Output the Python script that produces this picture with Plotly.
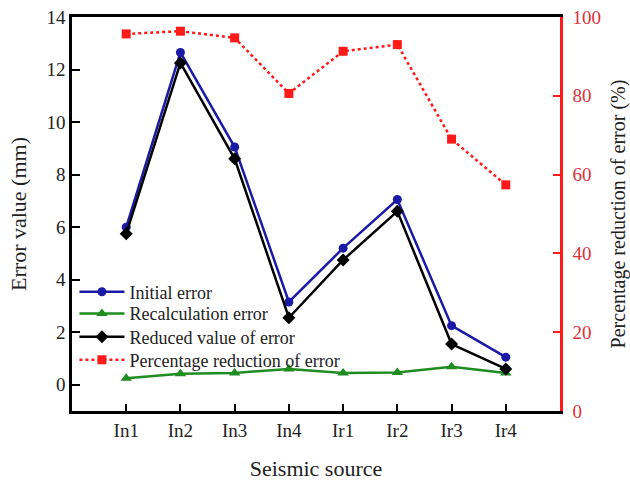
import plotly.graph_objects as go

categories = ["In1", "In2", "In3", "In4", "Ir1", "Ir2", "Ir3", "Ir4"]
initial_error = [6.0, 12.65, 9.05, 3.15, 5.2, 7.05, 2.25, 1.05]
recalc_error = [0.25, 0.42, 0.45, 0.6, 0.45, 0.47, 0.68, 0.45]
reduced_error = [5.75, 12.25, 8.6, 2.55, 4.75, 6.6, 1.55, 0.6]
pct_reduction = [95.7, 96.4, 94.7, 80.6, 91.3, 93.0, 69.0, 57.4]

left_ticks = [0, 2, 4, 6, 8, 10, 12, 14]
right_ticks = [0, 20, 40, 60, 80, 100]

FONT = "Liberation Serif, Times New Roman, serif"

fig = go.Figure()
fig.add_trace(go.Scatter(x=categories, y=initial_error, name="Initial error",
                         mode="lines+markers", line=dict(color="#1a1aa6", width=2.5),
                         marker=dict(symbol="circle", size=9, color="#1a1aa6"),
                         legend="legend"))
fig.add_trace(go.Scatter(x=categories, y=recalc_error, name="Recalculation error",
                         mode="lines+markers", line=dict(color="#1e8c1e", width=2.5),
                         marker=dict(symbol="triangle-up", size=10, color="#1e8c1e"),
                         legend="legend2"))
fig.add_trace(go.Scatter(x=categories, y=reduced_error, name="Reduced value of error",
                         mode="lines+markers", line=dict(color="black", width=2.5),
                         marker=dict(symbol="diamond", size=10, color="black"),
                         legend="legend3"))
fig.add_trace(go.Scatter(x=categories, y=pct_reduction, name="Percentage reduction of error",
                         mode="lines+markers", yaxis="y2",
                         line=dict(color="#ff1a1a", width=2.5, dash="dot"),
                         marker=dict(symbol="square", size=9, color="#ff1a1a"),
                         legend="legend4"))

def leg(y):
    return dict(x=0.005, y=y, xanchor="left", yanchor="middle",
                bgcolor="rgba(0,0,0,0)", font=dict(family=FONT, size=18, color="#222"),
                itemwidth=45)

fig.update_layout(
    width=630, height=481,
    margin=dict(l=72, r=70, t=17, b=70),
    paper_bgcolor="white", plot_bgcolor="white",
    font=dict(family=FONT, size=18, color="#222"),
    showlegend=True,
    legend=leg(0.302), legend2=leg(0.247), legend3=leg(0.188), legend4=leg(0.129),
    xaxis=dict(type="category", range=[-1, 8], showline=True, linecolor="black",
               linewidth=2.5, mirror=True, ticks="inside", ticklen=7, tickwidth=2,
               tickcolor="black", showgrid=False, zeroline=False, automargin=False,
               tickfont=dict(family=FONT, size=19, color="#222"),
               title=dict(text="Seismic source", font=dict(family=FONT, size=22, color="#222"),
                          standoff=22)),
    yaxis=dict(range=[-1, 14], tickvals=left_ticks, showline=True, linecolor="black",
               linewidth=2.5, ticks="inside", ticklen=8, tickwidth=2, tickcolor="black",
               showgrid=False, zeroline=False, automargin=False, ticklabeloverflow="allow",
               tickfont=dict(family=FONT, size=19, color="#222"),
               title=dict(text="Error value (mm)", font=dict(family=FONT, size=22, color="#222"),
                          standoff=14)),
    yaxis2=dict(range=[0, 100], tickvals=right_ticks, overlaying="y", side="right",
                showline=True, linecolor="#ff1a1a", linewidth=2.5, ticks="inside",
                ticklen=7, tickwidth=2, tickcolor="#ff1a1a", showgrid=False,
                zeroline=False, automargin=False, ticklabelstandoff=6,
                ticklabeloverflow="allow",
                tickfont=dict(family=FONT, size=19, color="#e0303a"),
                title=dict(text="Percentage reduction of error (%)",
                           font=dict(family=FONT, size=20, color="#222"), standoff=20)),
)

fig.write_html("out.html", config={"displayModeBar": False},
               post_script="document.body.style.margin='0';document.body.style.overflow='hidden';")
